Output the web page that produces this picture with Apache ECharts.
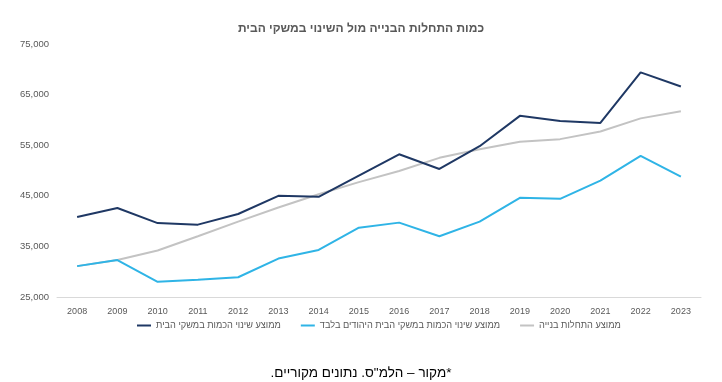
<!DOCTYPE html>
<html><head><meta charset="utf-8">
<script src="https://cdn.jsdelivr.net/npm/echarts@6/dist/echarts.min.js"></script>
<style>html,body{margin:0;padding:0;background:#fff}#c{width:722px;height:382px}</style>
</head><body><div id="c"></div>
<script>
const years = ['2008','2009','2010','2011','2012','2013','2014','2015','2016','2017','2018','2019','2020','2021','2022','2023'];
const householdsAll = [40800,42600,39600,39300,41400,45000,44800,49000,53200,50300,54800,60800,59800,59400,69400,66600];
const householdsJewish = [31100,32300,28000,28400,28900,32600,34300,38700,39700,37000,39900,44600,44400,48000,52900,48800];
const constructionStarts = [31100,32300,34200,37000,39900,42700,45300,47700,49900,52500,54200,55700,56200,57700,60300,61700];
const seriesNames = ['ממוצע שינוי הכמות במשקי הבית','ממוצע שינוי הכמות במשקי הבית היהודים בלבד','ממוצע התחלות בנייה'];
const titleText = 'כמות התחלות הבנייה מול השינוי במשקי הבית';
const footerText = '\u202B*מקור – הלמ"ס. נתונים מקוריים.\u202C';
const colors = ['#1f3864','#2fb4e6','#c3c3c3'];
const font = '"Liberation Sans", "DejaVu Sans", Arial, sans-serif';

const chart = echarts.init(document.getElementById('c'), null, {renderer:'canvas'});
chart.setOption({
  animation:false,
  textStyle:{fontFamily:font},
  title:{text:titleText,left:'center',top:18,textStyle:{fontSize:12,fontWeight:'bold',color:'#595959',fontFamily:font}},
  grid:{left:57,right:21,top:44,bottom:85,containLabel:false},
  legend:{data:seriesNames.map((n,i)=>({name:n,icon:'rect'})),bottom:47,left:132,itemWidth:14,itemHeight:2,itemGap:20,
    textStyle:{fontSize:9.2,color:'#595959',fontFamily:font}},
  xAxis:{type:'category',data:years,boundaryGap:true,
    axisLine:{lineStyle:{color:'#d9d9d9'}},axisTick:{show:false},
    axisLabel:{fontSize:9,color:'#595959',margin:10}},
  yAxis:{type:'value',min:25000,max:75000,interval:10000,
    axisLine:{show:false},axisTick:{show:false},splitLine:{show:false},
    axisLabel:{fontSize:9.5,color:'#595959',margin:8,formatter:v=>v.toLocaleString('en-US')}},
  series:[
    {name:seriesNames[0],type:'line',data:householdsAll,symbol:'none',lineStyle:{width:2,color:colors[0]},itemStyle:{color:colors[0]},z:3},
    {name:seriesNames[1],type:'line',data:householdsJewish,symbol:'none',lineStyle:{width:2,color:colors[1]},itemStyle:{color:colors[1]},z:2},
    {name:seriesNames[2],type:'line',data:constructionStarts,symbol:'none',lineStyle:{width:2,color:colors[2]},itemStyle:{color:colors[2]},z:1}
  ],
  graphic:[{type:'text',left:'center',top:366,style:{text:footerText,font:'13.5px '+font,fill:'#000'}}]
});
</script></body></html>
